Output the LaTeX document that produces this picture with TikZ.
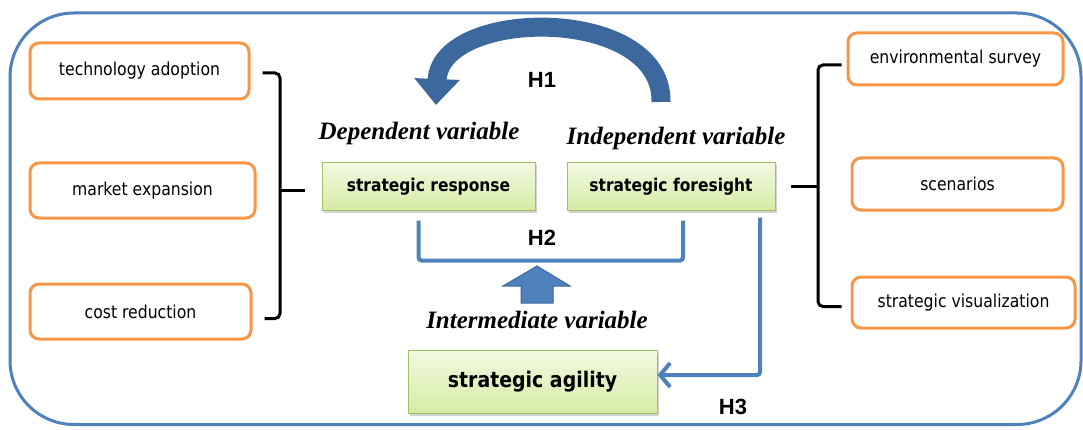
\documentclass[tikz,border=0pt]{standalone}
\usepackage{fontspec}
\setmainfont{Liberation Serif}
\newfontfamily\boxfont[FakeStretch=0.88]{DejaVu Sans}
\newfontfamily\hypfont{Liberation Sans}
\usepackage{tikz}
\usetikzlibrary{calc, positioning, arrows.meta, shadows}

\definecolor{frameblue}{RGB}{79,129,189}
\definecolor{curveblue}{RGB}{60,104,158}
\definecolor{boxorange}{RGB}{247,150,70}
\definecolor{varborder}{RGB}{160,192,100}
\definecolor{vartop}{RGB}{242,249,226}
\definecolor{varbottom}{RGB}{214,235,166}

\begin{document}
\begin{tikzpicture}[
        x=1pt, y=1pt,
        factorbox/.style={rectangle, draw=boxorange, line width=3pt, rounded corners=9pt, inner sep=0pt, font=\boxfont\fontsize{17.8}{20}\selectfont},
        varbox/.style={rectangle, draw=varborder, line width=1pt, inner sep=0pt, top color=vartop, bottom color=varbottom,
            drop shadow={opacity=0.35, shadow xshift=2pt, shadow yshift=-2.5pt}, font=\boxfont\bfseries\fontsize{17.6}{20}\selectfont},
        role/.style={font=\bfseries\itshape\fontsize{25}{27}\selectfont},
        hyp/.style={font=\hypfont\bfseries\fontsize{22}{24}\selectfont},
        brace/.style={line width=3pt, rounded corners=5pt},
        link/.style={draw=frameblue, line width=4pt, rounded corners=3pt}
    ]
        \useasboundingbox (0,0) rectangle (1083,429);
        \draw[frameblue, line width=3pt, rounded corners=64pt] (10,4.5) rectangle (1081,416);

        % factors on both sides
        \node[factorbox, minimum width=219pt, minimum height=56pt] (tech) at (139.5,358) {technology adoption};
        \node[factorbox, minimum width=225pt, minimum height=55pt] (market) at (142.5,238.5) {market expansion};
        \node[factorbox, minimum width=221pt, minimum height=55pt] (cost) at (140.5,117.5) {cost reduction};

        \node[factorbox, minimum width=215pt, minimum height=52pt] (env) at (955.5,370) {environmental survey};
        \node[factorbox, minimum width=211pt, minimum height=52pt] (scen) at (957.5,245) {scenarios};
        \node[factorbox, minimum width=223pt, minimum height=51pt] (vis) at (963.5,126.5) {strategic visualization};

        % the three variables
        \node[varbox, minimum width=213pt, minimum height=47pt] (resp) at (428.5,242.5) {strategic response};
        \node[varbox, minimum width=208pt, minimum height=47pt] (fore) at (671,242.5) {strategic foresight};
        \node[varbox, minimum width=249pt, minimum height=63pt, font=\boxfont\bfseries\fontsize{21.5}{23}\selectfont] (agil) at (532.5,47.5) {strategic agility};

        \node[role] (dep) at (419,296) {Dependent variable};
        \node[role] (indep) at (676,291) {Independent variable};
        \node[role] (inter) at (537,109) {Intermediate variable};

        \node[hyp] (h1) at (542,349) {H1};
        \node[hyp] (h2) at (542,191) {H2};
        \node[hyp] (h3) at (733,22) {H3};

        % brackets
        \coordinate (lbrace) at (280,0);
        \coordinate (rbrace) at (818,0);
        \draw[brace] ([shift={(12pt,-2pt)}]tech.east) -| (lbrace |- market.east) |- ([shift={(12pt,-7pt)}]cost.east);
        \draw[brace] (lbrace |- market.east) -- ++(25,0);
        \draw[brace] ([shift={(-5pt,-6pt)}]env.west) -| (rbrace |- fore.east) |- ([shift={(-9pt,-4pt)}]vis.west);
        \draw[brace] (rbrace |- fore.east) -- ([xshift=15pt]fore.east);

        % H1
        \coordinate (h1tail) at (661,327);
        \coordinate (h1tip) at (436,324);
        \draw[curveblue, line width=19pt, -{Triangle[length=26pt, width=44pt]}]
            (h1tail) .. controls (663,424) and (440,422) .. (h1tip);

        % H2
        \draw[link] ([shift={(-10pt,-10pt)}]resp.south) |- ([shift={(12pt,-50pt)}]fore.south) -- ([shift={(12pt,-10pt)}]fore.south);
        \draw[fill=frameblue, draw=curveblue, line width=1pt]
            (537,163) -- (570,143) -- (553,143) -- (553,126) -- (521,126) -- (521,143) -- (503,143) -- cycle;

        % H3
        \draw[link, -{Straight Barb[length=10pt, width=24pt]}] ([shift={(89pt,-7pt)}]fore.south) |- ([yshift=6.5pt]agil.east);
    \end{tikzpicture}
\end{document}
